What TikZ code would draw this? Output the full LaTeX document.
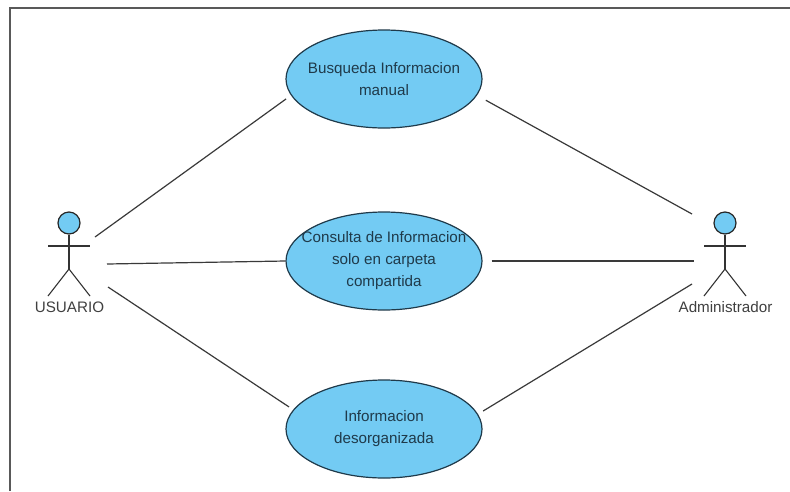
\documentclass[tikz,border=0pt]{standalone}
\usepackage{fontspec}
\setmainfont{Liberation Sans}
\usepackage{xcolor}
\usetikzlibrary{shapes.geometric}
\definecolor{casofill}{HTML}{73CBF3}
\definecolor{casoline}{HTML}{1F3A4A}
\definecolor{linea}{HTML}{3A3A3A}
\tikzset{
    usecase/.style={ellipse,draw=casoline,line width=1.2pt,fill=casofill,minimum width=196pt,minimum height=98pt,inner sep=-40pt,align=center,font=\fontsize{15.2}{22}\selectfont,text=casoline},
    actorhead/.style={circle,draw=black!85,line width=1.2pt,fill=casofill,minimum size=22pt,inner sep=0pt},
    actorname/.style={font=\fontsize{15.2}{17}\selectfont,text=black!75},
    assoc/.style={draw=linea,line width=1.2pt},
    stick/.style={draw=black!80,line width=1.1pt}
}
\begin{document}
\begin{tikzpicture}[x=1pt,y=-1pt]
\useasboundingbox (0,0) rectangle (790,491);
\fill[white] (0,0) rectangle (790,491);
\draw[draw=black!65,line width=1.4pt] (10,491) -- (10,8) -- (790,8);
\node[usecase] (busqueda) at (384,79) {Busqueda Informacion\\manual};
\node[usecase] (consulta) at (384,261) {Consulta de Informacion\\solo en carpeta\\compartida};
\node[usecase] (desorden) at (384,429) {Informacion\\desorganizada};
% actors
\foreach \actorid/\x/\actortext in {usuario/69/USUARIO,admin/725/Administrador}{
    \node[actorhead] (\actorid) at (\x,223) {};
    \coordinate (\actorid hip) at (\x,269);
    \draw[stick] (\actorid) -- (\actorid hip);
    \draw[stick] (\x-21,246) -- (\x+21,246);
    \draw[stick] (\x-21,296) -- (\actorid hip) -- (\x+21,296);
    \node[actorname] (\actorid name) at (\x+0.5,307.5) {\actortext};
}
\coordinate (usuarioA) at (95,237);
\coordinate (usuarioB) at (107,264);
\coordinate (usuarioC) at (108,287);
\coordinate (adminA) at (692,214);
\coordinate (adminB) at (694,261);
\coordinate (adminC) at (692,284);
\draw[assoc,shorten >=6pt] (usuarioA) -- (busqueda.190.6);
\draw[assoc] (usuarioB) -- (consulta.west);
\draw[assoc,shorten >=5pt] (usuarioC) -- (desorden.168.6);
\draw[assoc,shorten <=10pt] (busqueda.350.2) -- (adminA);
\draw[assoc,shorten <=9pt] (consulta.east) -- (adminB);
\draw[assoc,shorten <=6pt] (desorden.9.2) -- (adminC);
\end{tikzpicture}
\end{document}
